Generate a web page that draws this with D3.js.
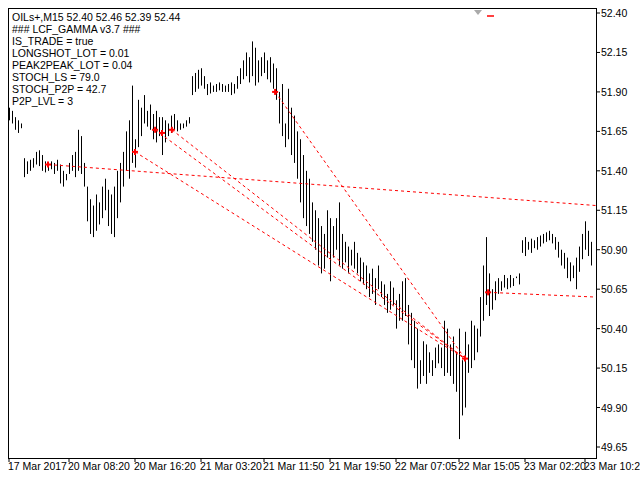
<!DOCTYPE html><html><head><meta charset="utf-8">
<script src="https://cdn.jsdelivr.net/npm/d3@7"></script>
<style>body{margin:0;background:#fff}text{font-family:"Liberation Sans",Arial,sans-serif;font-size:10.5px}</style></head><body>
<svg id="c" width="640" height="480"></svg>
<script>
const highs=[51.80,51.78,51.74,51.72,51.70,
51.48,51.46,51.47,51.48,51.52,51.53,51.50,51.46,51.44,51.46,51.45,51.47,
51.44,51.40,51.38,51.45,51.50,51.52,51.66,51.62,
51.45,51.30,51.22,51.18,51.25,51.20,51.30,51.35,51.28,51.25,51.30,51.40,51.45,51.52,
51.65,51.72,51.94,51.60,51.85,51.80,51.88,51.78,51.82,51.76,51.78,51.74,
51.74,51.72,51.70,51.75,51.76,51.72,51.70,51.70,51.72,51.74,
52.00,52.02,52.04,52.05,52.00,51.95,51.96,51.94,51.95,51.96,51.95,51.94,51.95,51.96,51.95,52.00,
52.05,52.10,52.15,52.12,52.22,52.18,52.10,52.12,52.15,52.10,52.12,52.08,52.05,
51.90,51.95,51.70,51.92,51.80,51.75,51.65,51.60,51.50,51.40,51.35,
51.20,51.15,51.10,51.05,51.00,51.15,51.10,51.05,51.10,51.20,51.00,50.95,50.92,50.90,50.95,50.88,
50.85,50.82,50.80,50.75,50.78,50.72,50.80,50.70,50.68,50.62,50.70,50.66,50.58,50.62,
50.70,50.72,50.55,50.50,50.45,50.40,50.20,50.32,50.30,50.25,50.20,50.28,50.30,
50.28,50.45,50.40,50.30,50.35,50.25,50.40,50.20,50.38,50.30,
50.45,50.42,50.40,50.60,50.80,50.98,50.75,50.65,50.70,
50.72,50.70,50.74,50.72,50.74,50.72,50.73,50.75,
50.96,50.98,50.95,50.97,50.96,50.98,50.99,51.00,51.01,51.02,51.00,50.98,50.95,50.90,50.88,50.85,
50.82,50.80,50.85,50.92,51.00,51.08,51.02,50.95];
const lows=[51.72,51.70,51.66,51.64,51.67,
51.36,51.38,51.40,51.42,51.44,51.43,51.40,51.39,51.40,51.41,51.38,51.40,
51.32,51.30,51.34,51.38,51.40,51.36,51.40,51.38,
51.30,51.08,51.00,50.98,51.02,51.06,51.10,51.15,51.05,51.00,50.98,51.10,51.20,51.30,
51.40,51.35,51.45,51.42,51.55,51.62,51.70,51.68,51.66,51.60,51.58,51.62,
51.50,51.58,51.62,51.64,51.66,51.65,51.66,51.67,51.68,51.70,
51.88,51.90,51.92,51.94,51.92,51.88,51.89,51.90,51.90,51.91,51.90,51.90,51.90,51.88,51.89,51.92,
51.95,51.98,52.00,51.96,52.00,51.94,51.96,52.00,52.02,51.98,51.96,51.92,51.85,
51.70,51.62,51.55,51.60,51.50,51.45,51.35,51.20,51.10,51.05,51.00,
50.95,50.90,50.80,50.75,50.78,50.85,50.70,50.85,50.90,50.80,50.78,50.82,50.75,50.80,50.78,50.75,
50.70,50.68,50.65,50.60,50.62,50.55,50.65,50.60,50.55,50.50,50.52,50.55,50.40,50.45,
50.45,50.48,50.30,50.20,50.15,50.02,50.05,50.10,50.05,50.12,50.10,50.15,50.18,
50.15,50.10,50.12,50.10,50.05,50.00,49.70,49.85,49.90,50.12,
50.15,50.20,50.25,50.35,50.45,50.55,50.48,50.52,50.58,
50.62,50.64,50.66,50.65,50.66,50.67,50.72,50.68,
50.88,50.86,50.90,50.88,50.91,50.90,50.92,50.94,50.95,50.96,50.94,50.90,50.85,50.80,50.78,50.72,
50.70,50.72,50.65,50.76,50.84,50.90,50.86,50.80];
const priceTicks=[52.40,52.15,51.90,51.65,51.40,51.15,50.90,50.65,50.40,50.15,49.90,49.65];
const timeLabels=["17 Mar 2017","20 Mar 08:20","20 Mar 16:20","21 Mar 03:20","21 Mar 11:50","21 Mar 19:50","22 Mar 07:05","22 Mar 15:05","23 Mar 02:20","23 Mar 10:2"];
const timeIdx=[0,20,42,64,85,107,129,150,172,192];
const levelLines=[[13,51.44,195.7,51.18],[42,51.52,152,50.21],[48.7,51.66,152,50.21],[54.3,51.66,152,50.21],[88.7,51.90,152,50.21],[159.7,50.63,195.7,50.60]];
const crosses=[[13,51.44],[42,51.52],[48.7,51.66],[51,51.64],[54.3,51.66],[88.7,51.90],[152,50.21],[159.7,50.63]];
const infoLines=["OILs+,M15  52.40 52.46 52.39 52.44","### LCF_GAMMA v3.7 ###","IS_TRADE = true","LONGSHOT_LOT = 0.01","PEAK2PEAK_LOT = 0.04","STOCH_LS = 79.0","STOCH_P2P = 42.7","P2P_LVL = 3"];

const svg=d3.select("#c");
const L=8,R=596,T=8,B=458;
const x=d3.scaleLinear().domain([0,1]).range([9,12]);
const y=d3.scaleLinear().domain([49.65,52.40]).range([447,13]);
svg.append("rect").attr("x",L+0.5).attr("y",T+0.5).attr("width",R-L).attr("height",B-T).attr("fill","none").attr("stroke","#000");
svg.append("g").selectAll("line").data(highs).join("line")
 .attr("x1",(d,i)=>Math.round(x(i))+0.5).attr("x2",(d,i)=>Math.round(x(i))+0.5)
 .attr("y1",d=>y(d)).attr("y2",(d,i)=>y(lows[i])).attr("stroke","#000").attr("stroke-width",1);
svg.append("g").selectAll("line").data(levelLines).join("line")
 .attr("x1",d=>x(d[0])).attr("y1",d=>y(d[1])).attr("x2",d=>x(d[2])).attr("y2",d=>y(d[3]))
 .attr("stroke","#f00").attr("stroke-dasharray","3,3").attr("stroke-width",1);
const cg=svg.append("g").attr("stroke","#f00").attr("stroke-width",2);
crosses.forEach(c=>{const cx=x(c[0]),cy=y(c[1]);
 cg.append("line").attr("x1",cx-3).attr("x2",cx+3).attr("y1",cy).attr("y2",cy);
 cg.append("line").attr("x1",cx).attr("x2",cx).attr("y1",cy-3).attr("y2",cy+3);});
const ya=svg.append("g");
priceTicks.forEach(p=>{ya.append("line").attr("x1",R).attr("x2",R+4).attr("y1",y(p)).attr("y2",y(p)).attr("stroke","#000");
 ya.append("text").attr("x",R+5).attr("y",y(p)+4).text(p.toFixed(2));});
const xa=svg.append("g");
timeLabels.forEach((t,k)=>{const px=x(timeIdx[k]);
 xa.append("line").attr("x1",px).attr("x2",px).attr("y1",B).attr("y2",B+4).attr("stroke","#000");
 xa.append("text").attr("x",px-1).attr("y",B+12).text(t);});
svg.append("g").selectAll("text").data(infoLines).join("text").attr("x",12).attr("y",(d,i)=>21+i*12).text(d=>d);
svg.append("path").attr("d","M474,10 L482,10 L478,15 Z").attr("fill","#aaa");
svg.append("line").attr("x1",487).attr("x2",494).attr("y1",16).attr("y2",16).attr("stroke","#f00").attr("stroke-width",1.5);
</script></body></html>
